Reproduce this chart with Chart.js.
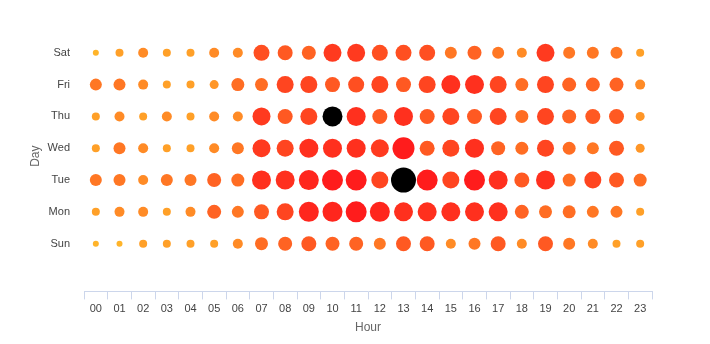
<!DOCTYPE html>
<html>
<head>
<meta charset="utf-8">
<script src="https://cdn.jsdelivr.net/npm/chart.js@4"></script>
<style>
  html, body { margin: 0; padding: 0; background: #fff; }
  #wrap { width: 710px; height: 344px; }
</style>
</head>
<body>
<div id="wrap"><canvas id="grafico" width="710" height="344"></canvas></div>
<script>
// categorias
const hours = ['00','01','02','03','04','05','06','07','08','09','10','11','12','13','14','15','16','17','18','19','20','21','22','23'];
const days = ['Sun', 'Mon', 'Tue', 'Wed', 'Thu', 'Fri', 'Sat'];

// atividade por hora, uma linha por dia
const sun = [6, 6, 8, 8, 8, 8, 10, 13, 14, 15, 14, 14, 12, 15, 15, 10, 12, 15, 10, 15, 12, 10, 8, 8];
const mon = [8, 10, 10, 8, 10, 14, 12, 15, 17, 20, 20, 21, 20, 19, 19, 19, 19, 19, 14, 13, 13, 12, 12, 8];
const tue = [12, 12, 10, 12, 12, 14, 13, 19, 19, 20, 21, 21, 17, 25, 21, 17, 21, 19, 15, 19, 13, 17, 15, 13];
const wed = [8, 12, 10, 8, 8, 10, 12, 18, 17, 19, 19, 19, 18, 22, 15, 17, 19, 14, 13, 17, 13, 12, 15, 9];
const thu = [8, 10, 8, 10, 8, 10, 10, 18, 15, 17, 20, 19, 15, 19, 15, 17, 15, 17, 13, 17, 14, 15, 15, 9];
const fri = [12, 12, 10, 8, 8, 9, 13, 13, 17, 17, 15, 16, 17, 15, 17, 19, 19, 17, 13, 17, 14, 14, 14, 10];
const sat = [6, 8, 10, 8, 8, 10, 10, 16, 15, 14, 18, 18, 16, 16, 16, 12, 14, 12, 10, 18, 12, 12, 12, 8];
const rows = [sun, mon, tue, wed, thu, fri, sat];

// picos marcados em preto: [dia, hora]
const peaks = [[4, 10], [2, 13]];

function cor(v) {
  let t = (v - 6) / 15;
  if (t < 0) t = 0;
  if (t > 1) t = 1;
  const g = Math.round(180 - t * 152);
  const b = Math.round(42 - t * 14);
  return 'rgb(255,' + g + ',' + b + ')';
}

const pontos = [];
const cores = [];
rows.forEach((row, d) => {
  row.forEach((v, h) => {
    pontos.push({ x: hours[h], y: d, r: v / 2 });
    const pico = peaks.some(p => p[0] === d && p[1] === h);
    cores.push(pico ? '#000000' : cor(v));
  });
});

Chart.defaults.font.family = '"Liberation Sans", Arial, sans-serif';
Chart.defaults.font.size = 11;

const ctx = document.getElementById('grafico').getContext('2d');
new Chart(ctx, {
  type: 'bubble',
  data: {
    datasets: [{
      data: pontos,
      backgroundColor: cores,
      borderWidth: 0,
      hoverBorderWidth: 0
    }]
  },
  options: {
    responsive: false,
    animation: false,
    layout: { padding: { left: 24, right: 58, top: 21, bottom: 9 } },
    plugins: {
      legend: { display: false },
      tooltip: { enabled: false }
    },
    scales: {
      x: {
        type: 'category',
        labels: hours,
        offset: true,
        grid: {
          offset: true,
          drawOnChartArea: false,
          drawTicks: true,
          tickLength: 8,
          color: '#ccd6eb'
        },
        border: { color: '#ccd6eb' },
        ticks: { color: '#444', padding: 3, autoSkip: false, maxRotation: 0 },
        title: { display: true, text: 'Hour', color: '#666', font: { size: 12 }, padding: { top: 2, bottom: 0 } }
      },
      y: {
        min: -1.5,
        max: 7,
        afterBuildTicks: axis => { axis.ticks = days.map((d, i) => ({ value: i })); },
        afterFit: axis => { axis.width = 60; },
        grid: { display: false, drawTicks: false },
        border: { display: false },
        ticks: { color: '#444', padding: 14, callback: v => days[v] },
        title: { display: true, text: 'Day', color: '#666', font: { size: 12 }, padding: { top: 4, bottom: 4 } }
      }
    }
  }
});
</script>
</body>
</html>
